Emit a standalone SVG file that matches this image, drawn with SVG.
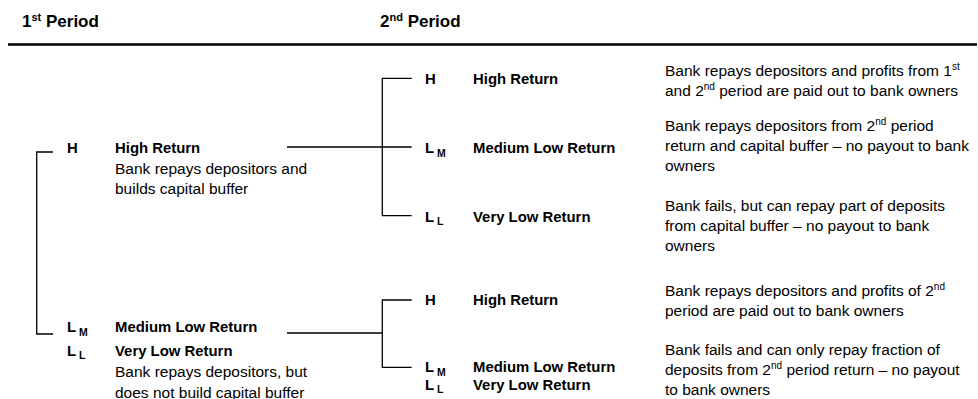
<svg xmlns="http://www.w3.org/2000/svg" width="978" height="399" viewBox="0 0 978 399">
  <style>
    text { font-family: "Liberation Sans", Arial, sans-serif; fill: #000; }
    .hd { font-size: 17px; font-weight: bold; }
    .lb { font-size: 14.9px; font-weight: bold; }
    .tx { font-size: 15.5px; }
    .sub { font-size: 10.5px; font-weight: bold; }
    .sup { font-size: 10px; }
    .hsup { font-size: 11px; font-weight: bold; }
    .ln { stroke: #000; stroke-width: 1.3; fill: none; }
  </style>

  <!-- period headings and rule -->
  <g id="header">
    <text class="hd" x="22" y="27">1<tspan class="hsup" dy="-6">st</tspan><tspan dy="6"> Period</tspan></text>
    <text class="hd" x="380" y="27">2<tspan class="hsup" dy="-6">nd</tspan><tspan dy="6"> Period</tspan></text>
    <line x1="8" y1="44.5" x2="977" y2="44.5" stroke="#000" stroke-width="2.5"/>
  </g>

  <!-- connectors -->
  <g id="connectors">
    <path class="ln" d="M53,152 H36.7 V334 H53"/>
    <path class="ln" d="M287,147 H411.7 M411.7,78.3 H382.3 V215.7 H411.7"/>
    <path class="ln" d="M287,333 H382.3 M411.7,300 H382.3 V367.3 H411.7"/>
  </g>

  <!-- first period: high return -->
  <g id="p1-high">
    <text class="lb" x="67" y="153">H</text>
    <text class="lb" x="115" y="153">High Return</text>
    <text class="tx" x="115" y="174">Bank repays depositors and</text>
    <text class="tx" x="115" y="194">builds capital buffer</text>
  </g>

  <!-- first period: low returns -->
  <g id="p1-low">
    <text class="lb" x="67" y="332">L<tspan class="sub" dx="3" dy="4">M</tspan></text>
    <text class="lb" x="115" y="332">Medium Low Return</text>
    <text class="lb" x="67" y="356">L<tspan class="sub" dx="3" dy="3">L</tspan></text>
    <text class="lb" x="115" y="356">Very Low Return</text>
    <text class="tx" x="115" y="377">Bank repays depositors, but</text>
    <text class="tx" x="115" y="398">does not build capital buffer</text>
  </g>

  <!-- second period after high first-period return -->
  <g id="p2a-high">
    <text class="lb" x="425" y="84">H</text>
    <text class="lb" x="473" y="84">High Return</text>
    <text class="tx" x="665" y="76">Bank repays depositors and profits from 1<tspan class="sup" dy="-6">st</tspan></text>
    <text class="tx" x="665" y="96">and 2<tspan class="sup" dy="-6">nd</tspan><tspan dy="6"> period are paid out to bank owners</tspan></text>
  </g>
  <g id="p2a-medium">
    <text class="lb" x="425" y="153">L<tspan class="sub" dx="3" dy="4">M</tspan></text>
    <text class="lb" x="473" y="153">Medium Low Return</text>
    <text class="tx" x="665" y="131">Bank repays depositors from 2<tspan class="sup" dy="-6">nd</tspan><tspan dy="6"> period</tspan></text>
    <text class="tx" x="665" y="151">return and capital buffer – no payout to bank</text>
    <text class="tx" x="665" y="171">owners</text>
  </g>
  <g id="p2a-verylow">
    <text class="lb" x="425" y="222">L<tspan class="sub" dx="3" dy="3">L</tspan></text>
    <text class="lb" x="473" y="222">Very Low Return</text>
    <text class="tx" x="665" y="211">Bank fails, but can repay part of deposits</text>
    <text class="tx" x="665" y="231">from capital buffer – no payout to bank</text>
    <text class="tx" x="665" y="251">owners</text>
  </g>

  <!-- second period after low first-period return -->
  <g id="p2b-high">
    <text class="lb" x="425" y="305">H</text>
    <text class="lb" x="473" y="305">High Return</text>
    <text class="tx" x="665" y="296">Bank repays depositors and profits of 2<tspan class="sup" dy="-6">nd</tspan></text>
    <text class="tx" x="665" y="316">period are paid out to bank owners</text>
  </g>
  <g id="p2b-low">
    <text class="lb" x="425" y="372">L<tspan class="sub" dx="3" dy="4">M</tspan></text>
    <text class="lb" x="473" y="372">Medium Low Return</text>
    <text class="lb" x="425" y="390">L<tspan class="sub" dx="3" dy="3">L</tspan></text>
    <text class="lb" x="473" y="390">Very Low Return</text>
    <text class="tx" x="665" y="355">Bank fails and can only repay fraction of</text>
    <text class="tx" x="665" y="375">deposits from 2<tspan class="sup" dy="-6">nd</tspan><tspan dy="6"> period return – no payout</tspan></text>
    <text class="tx" x="665" y="395">to bank owners</text>
  </g>
</svg>
